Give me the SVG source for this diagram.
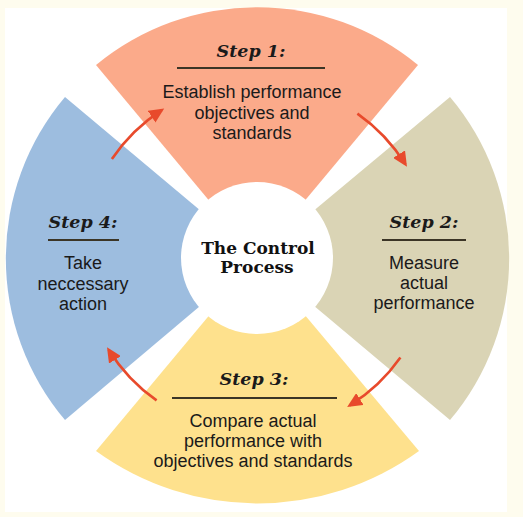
<svg xmlns="http://www.w3.org/2000/svg" width="523" height="517" viewBox="0 0 523 517">
<style>
.step{font-family:"DejaVu Serif",serif;font-weight:bold;font-style:italic;font-size:17.5px;fill:#1a1a1a;text-anchor:middle}
.body{font-family:"Liberation Sans",Arial,sans-serif;font-size:18px;fill:#1a1a1a;text-anchor:middle}
.title{font-family:"DejaVu Serif",serif;font-weight:bold;font-size:17px;fill:#111;text-anchor:middle}
.rule{stroke:#3b3526;stroke-width:2}
.arrow{fill:none;stroke:#E84A2C;stroke-width:2.6;marker-end:url(#ah)}
</style>
<defs>
<marker id="ah" markerUnits="userSpaceOnUse" markerWidth="16" markerHeight="14" refX="12" refY="7" orient="auto">
<path d="M0,0 L15,7 L0,14 Z" fill="#E84A2C"/>
</marker>
</defs>
<rect x="0" y="0" width="523" height="517" fill="#FEFCEE"/>
<rect x="5" y="8" width="502" height="504" fill="#FFFFFF"/>

<g id="step1">
<path d="M257,258 L96,65 A253,253 0 0 1 418,65 Z" fill="#FBAA8A"/>
<text class="step" x="251" y="57">Step 1:</text>
<line class="rule" x1="177" y1="68" x2="325" y2="68"/>
<text class="body" x="252" y="98">Establish performance</text>
<text class="body" x="252" y="118.5">objectives and</text>
<text class="body" x="252" y="139">standards</text>
</g>

<g id="step2">
<path d="M257,258 L450,97 A250,250 0 0 1 450,420 Z" fill="#DAD4B5"/>
<text class="step" x="424" y="228">Step 2:</text>
<line class="rule" x1="382" y1="240" x2="466" y2="240"/>
<text class="body" x="424" y="269">Measure</text>
<text class="body" x="424" y="289">actual</text>
<text class="body" x="424" y="309">performance</text>
</g>

<g id="step3">
<path d="M257,258 L419,451 A275,275 0 0 1 96,451 Z" fill="#FEE18D"/>
<text class="step" x="254" y="385">Step 3:</text>
<line class="rule" x1="172" y1="398" x2="337" y2="398"/>
<text class="body" x="253" y="427">Compare actual</text>
<text class="body" x="253" y="447">performance with</text>
<text class="body" x="253" y="467">objectives and standards</text>
</g>

<g id="step4">
<path d="M257,258 L65,420 A250,250 0 0 1 65,97 Z" fill="#9DBDDF"/>
<text class="step" x="83" y="228">Step 4:</text>
<line class="rule" x1="48" y1="240" x2="119" y2="240"/>
<text class="body" x="83" y="269">Take</text>
<text class="body" x="83" y="290">neccessary</text>
<text class="body" x="83" y="310">action</text>
</g>

<g id="center">
<circle cx="257" cy="258" r="76" fill="#FFFFFF"/>
<text class="title" x="258" y="254">The Control</text>
<text class="title" x="257" y="273">Process</text>
</g>

<g id="connectors">
<path class="arrow" d="M111.9,159.1 A175,175 0 0 1 161.7,110.2"/>
<path class="arrow" d="M357.4,113.6 A175,175 0 0 1 405.4,164.3"/>
<path class="arrow" d="M400.4,357.4 A175,175 0 0 1 349.7,405.4"/>
<path class="arrow" d="M156.6,400.4 A175,175 0 0 1 108.6,349.7"/>
</g>
</svg>
